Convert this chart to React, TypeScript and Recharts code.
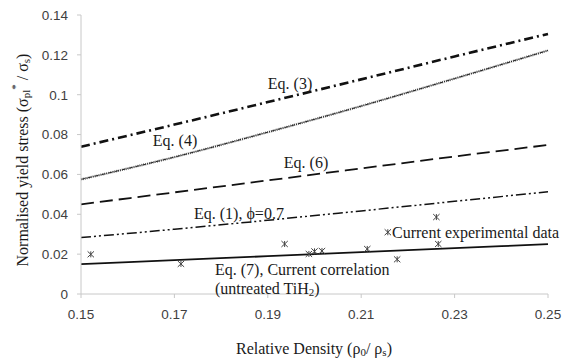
import React from 'react';
import { ComposedChart, Line, Scatter, XAxis, YAxis } from 'recharts';

// relative density positions the curves were read at
const densities = [0.15, 0.17, 0.19, 0.21, 0.23, 0.25];

// normalised yield stress
const eq3 = [0.0739, 0.0850, 0.0963, 0.1077, 0.1192, 0.1305];
const eq4 = [0.0575, 0.0687, 0.0812, 0.0943, 0.1081, 0.1222];
const eq6 = [0.0450, 0.0510, 0.0570, 0.0630, 0.0690, 0.0748];
const eq1 = [0.0283, 0.0325, 0.0370, 0.0417, 0.0465, 0.0513];
const eq7 = [0.0150, 0.0170, 0.0190, 0.0210, 0.0230, 0.0250];

// current experimental data
const expDensity = [0.1521, 0.1714, 0.1936, 0.1988, 0.2000, 0.2016, 0.2113, 0.2157, 0.2177, 0.2261, 0.2265];
const expStress = [0.0199, 0.0151, 0.0251, 0.0201, 0.0214, 0.0216, 0.0226, 0.0310, 0.0174, 0.0386, 0.0251];

const xTicks = [0.15, 0.17, 0.19, 0.21, 0.23, 0.25];
const yTicks = [0, 0.02, 0.04, 0.06, 0.08, 0.1, 0.12, 0.14];

const toRows = (ys: number[]) => densities.map((x, i) => ({ x, y: ys[i] }));
const expRows = expDensity.map((x, i) => ({ x, y: expStress[i] }));

const serif = "'Liberation Serif', 'Times New Roman', 'DejaVu Serif', serif";
const sans = "'Liberation Sans', sans-serif";

const Star = (props: any) => {
    const { cx, cy } = props;
    const w = 3.2;
    const h = 3;
    return (
        <g stroke="#444" strokeWidth={1}>
            <line x1={cx} y1={cy - h} x2={cx} y2={cy + h} />
            <line x1={cx - w} y1={cy - h} x2={cx + w} y2={cy + h} />
            <line x1={cx - w} y1={cy + h} x2={cx + w} y2={cy - h} />
        </g>
    );
};

const fmtY = (v: number) => (v === 0 ? '0' : String(v));

const tickStyle = { fontSize: 13.5, fill: '#404040', fontFamily: sans };

const Label = ({ x, y, anchor = 'start', children, transform }: any) => (
    <text x={x} y={y} textAnchor={anchor} transform={transform} fontFamily={serif} fontSize={16}
        fill="#1a1a1a" dominantBaseline="central">
        {children}
    </text>
);

export default function App() {
    return (
        <div style={{ position: 'absolute', left: 0, top: 0, width: 571, height: 358, background: '#fff' }}>
            <ComposedChart
                width={571}
                height={358}
                margin={{ top: 15, right: 23, left: 31, bottom: 34 }}
            >
                <XAxis
                    dataKey="x"
                    type="number"
                    domain={[0.15, 0.25]}
                    ticks={xTicks}
                    allowDuplicatedCategory={false}
                    stroke="#c8c8c8"
                    tickSize={4}
                    tickMargin={11}
                    tick={tickStyle}
                    tickFormatter={(v: number) => v.toFixed(2)}
                    height={30}
                />
                <YAxis
                    dataKey="y"
                    type="number"
                    domain={[0, 0.14]}
                    ticks={yTicks}
                    stroke="#c8c8c8"
                    tickSize={4}
                    tickMargin={9}
                    tick={tickStyle}
                    tickFormatter={fmtY}
                    width={50}
                />
                <Line data={toRows(eq3)} dataKey="y" type="monotone" stroke="#111" strokeWidth={2.6}
                    strokeDasharray="9 4 2 4" dot={false} isAnimationActive={false} />
                <Line data={toRows(eq4)} dataKey="y" type="monotone" stroke="#777" strokeWidth={2.4}
                    strokeDasharray="1 1" dot={false} isAnimationActive={false} />
                <Line data={toRows(eq4)} dataKey="y" type="monotone" stroke="#222" strokeWidth={1}
                    strokeDasharray="4 1 1 1" dot={false} isAnimationActive={false} />
                <Line data={toRows(eq6)} dataKey="y" type="monotone" stroke="#111" strokeWidth={1.8}
                    strokeDasharray="13 6" dot={false} isAnimationActive={false} />
                <Line data={toRows(eq1)} dataKey="y" type="monotone" stroke="#111" strokeWidth={1.5}
                    strokeDasharray="10 3 2 3 2 3" dot={false} isAnimationActive={false} />
                <Line data={toRows(eq7)} dataKey="y" type="monotone" stroke="#111" strokeWidth={1.8}
                    dot={false} isAnimationActive={false} />
                <Scatter data={expRows} dataKey="y" shape={<Star />} isAnimationActive={false} />
            </ComposedChart>
            <svg width={571} height={358} style={{ position: 'absolute', left: 0, top: 0, pointerEvents: 'none' }}>
                <Label x={290} y={83} anchor="middle">Eq. (3)</Label>
                <Label x={175} y={140} anchor="middle">Eq. (4)</Label>
                <Label x={306} y={162} anchor="middle">Eq. (6)</Label>
                <Label x={194} y={213}>Eq. (1), ϕ=0.7</Label>
                <Label x={392} y={232}>Current experimental data</Label>
                <Label x={215} y={269}>Eq. (7), Current correlation</Label>
                <Label x={215} y={288}>(untreated TiH<tspan fontSize={11} dy={4}>2</tspan><tspan dy={-4}>)</tspan></Label>
                <Label x={314} y={348} anchor="middle">
                    Relative Density (ρ<tspan fontSize={11} dy={4}>0</tspan><tspan dy={-4}>/ ρ</tspan><tspan fontSize={11} dy={4}>s</tspan><tspan dy={-4}>)</tspan>
                </Label>
                <Label x={0} y={0} anchor="middle" transform="translate(22,160) rotate(-90)">
                    Normalised yield stress (σ<tspan fontSize={11} dy={4}>pl</tspan><tspan fontSize={11} dy={-11}>*</tspan><tspan dy={7}> / σ</tspan><tspan fontSize={11} dy={4}>s</tspan><tspan dy={-4}>)</tspan>
                </Label>
            </svg>
        </div>
    );
}
